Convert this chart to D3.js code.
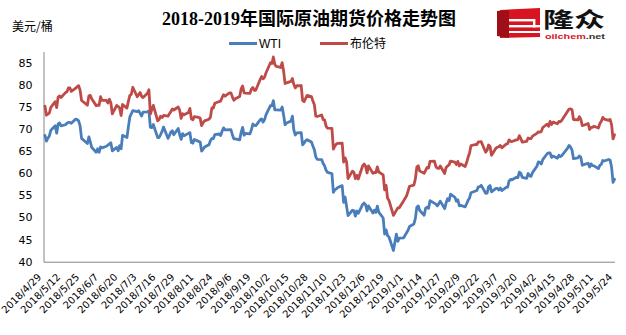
<!DOCTYPE html>
<html>
<head>
<meta charset="utf-8">
<script src="https://cdn.jsdelivr.net/npm/d3@7"></script>
<style>
  body { margin: 0; background: #fff; }
  svg { display: block; }
</style>
</head>
<body>
<svg id="chart" width="626" height="335"></svg>
<script>
// ---- data -------------------------------------------------------------
// Exchange closures common to both contracts (removed from the weekday calendar)
const closedDays = ["2018-05-28", "2018-12-25", "2019-01-01", "2019-04-19"];

// Daily settlement prices, USD/bbl, one row per trading week (null = no settlement)
const wti = [
  68.57, 67.25, 67.93, 68.43, 69.72,
  70.73, 69.06, 71.14, 71.36, 70.70,
  70.96, 71.31, 71.49, 71.49, 71.28,
  72.24, 72.13, 71.84, 70.71, 67.88,
  66.73, 68.21, 67.04, 65.81,
  64.75, 65.52, 64.73, 65.95, 65.74,
  66.10, 66.36, 66.64, 66.89, 65.06,
  65.85, 65.07, 66.22, 65.54, 68.58,
  68.08, 70.53, 72.76, 73.45, 74.15,
  73.94, 74.14, null, 72.94, 73.80,
  73.85, 74.11, 70.38, 70.33, 71.01,
  68.06, 68.08, 68.76, 69.46, 70.46,
  67.89, 68.52, 69.30, 69.61, 68.69,
  70.13, 68.76, 67.66, 68.96, 68.49,
  69.01, 69.17, 66.94, 66.81, 67.63,
  67.20, 67.04, 65.01, 65.46, 65.91,
  66.43, 67.35, 67.86, 67.83, 68.72,
  68.87, 68.53, 69.51, 70.25, 69.80,
  null, 69.87, 68.72, 67.77, 67.75,
  67.54, 69.25, 70.37, 68.59, 68.99,
  68.91, 69.85, 71.12, 70.80, 70.78,
  72.08, 72.28, 71.57, 72.12, 73.25,
  75.30, 75.23, 76.41, 74.33, 74.34,
  74.29, 74.96, 73.17, 70.97, 71.34,
  71.78, 72.92, 69.75, 68.65, 69.12,
  69.17, 66.43, 66.82, 67.33, 67.59,
  67.04, 66.18, 65.31, 63.69, 63.14,
  63.10, 62.21, 61.67, 60.67, 60.19,
  59.93, 55.69, 56.25, 56.46, 56.76,
  57.20, 53.43, 54.63, null, 50.42,
  51.63, 51.56, 50.29, 51.45, 50.93,
  52.95, 53.25, 52.89, 51.49, 52.61,
  51.00, 51.65, 51.15, 52.58, 51.20,
  49.88, 46.24, 47.20, 45.88, 45.59,
  42.53, 46.22, 44.61, 45.33,
  45.41, 46.54, 47.09, 47.96,
  48.52, 49.78, 52.36, 52.59, 51.59,
  50.51, 52.11, 52.31, 52.07, 53.80,
  null, 53.01, 52.62, 53.13, 53.69,
  51.99, 53.31, 54.23, 53.79, 55.26,
  54.56, 53.66, 54.01, 52.64, 52.72,
  52.41, 53.10, 53.90, 54.41, 55.59,
  null, 56.09, 56.92, 56.96, 57.26,
  55.48, 55.50, 56.94, 57.22, 55.80,
  56.59, 56.56, 56.22, 56.66, 56.07,
  56.79, 56.87, 58.26, 58.61, 58.52,
  59.09, 59.03, 60.23, 59.98, 59.04,
  58.82, 59.94, 59.41, 59.30, 60.14,
  61.59, 62.58, 62.46, 62.10, 63.08,
  64.40, 64.61, 64.61, 63.58, 63.89,
  63.40, 64.05, 63.76, 64.00,
  65.70, 66.30, 65.89, 65.21, 63.30,
  63.50, 63.91, 63.60, 61.81, 61.94,
  62.25, 61.40, 62.12, 61.70, 61.66,
  61.04, 61.78, 62.02, 62.87, 62.76,
  63.10, 62.99, 61.42, 57.91, 58.63
];

const brent = [
  75.17, 73.13, 73.36, 73.62, 74.87,
  76.17, 74.85, 77.21, 77.47, 77.12,
  78.23, 78.43, 79.28, 79.30, 78.51,
  79.22, 79.57, 79.80, 78.79, 76.44,
  75.39, 77.50, 77.59, 76.79,
  75.29, 75.38, 75.36, 77.32, 76.46,
  76.46, 75.88, 76.74, 75.94, 73.44,
  75.34, 75.08, 74.74, 73.05, 75.55,
  74.73, 76.31, 77.62, 77.85, 79.44,
  77.30, 77.76, 78.24, 77.39, 77.11,
  78.07, 78.86, 73.40, 74.45, 75.33,
  71.84, 72.16, 72.90, 72.58, 73.07,
  72.91, 73.44, 73.93, 74.54, 74.29,
  74.97, 74.25, 72.39, 73.45, 73.21,
  73.75, 74.65, 72.28, 72.07, 72.81,
  72.61, 72.46, 70.76, 71.43, 71.83,
  72.21, 72.63, 74.78, 74.73, 75.82,
  76.21, 76.31, 77.14, 77.77, 77.42,
  78.15, 78.17, 77.27, 76.50, 76.83,
  77.37, 79.06, 79.74, 78.18, 78.09,
  78.05, 79.03, 79.40, 78.70, 78.80,
  81.20, 81.87, 81.34, 81.72, 82.72,
  84.98, 84.80, 86.29, 84.58, 84.16,
  83.91, 85.00, 83.09, 80.26, 80.43,
  80.78, 81.41, 80.05, 79.29, 79.78,
  79.83, 76.44, 76.17, 76.89, 77.62,
  77.34, 76.31, 75.47, 72.89, 72.83,
  73.17, 72.13, 72.07, 70.65, 70.18,
  70.12, 65.47, 66.12, 66.62, 66.76,
  66.79, 62.53, 63.48, 62.60, 58.80,
  60.48, 60.21, 58.76, 59.51, 58.71,
  61.69, 62.08, 61.56, 60.06, 61.67,
  59.97, 60.20, 60.15, 61.45, 60.28,
  59.61, 56.26, 57.24, 54.35, 53.82,
  50.47, null, 52.16, 52.20,
  53.80, 54.91, 55.95, 57.06,
  57.33, 58.72, 61.44, 61.68, 60.48,
  59.99, 60.64, 61.32, 61.18, 62.70,
  62.74, 61.50, 61.14, 61.09, 61.64,
  59.93, 61.32, 61.65, 61.89, 62.75,
  62.51, 61.98, 62.69, 61.63, 62.10,
  61.51, 62.42, 63.61, 64.57, 66.25,
  66.50, 66.45, 67.08, 67.07, 67.12,
  64.76, 65.21, 66.39, 66.03, 64.07,
  65.67, 65.86, 65.99, 66.30, 65.74,
  66.58, 66.67, 67.55, 67.23, 67.16,
  67.54, 67.61, 68.50, 67.86, 67.03,
  67.21, 67.97, 67.83, 67.82, 68.39,
  69.01, 69.37, 69.31, 69.40, 70.34,
  71.10, 70.61, 71.73, 71.02, 71.55,
  71.18, 71.72, 71.62, 71.97,
  74.04, 74.51, 74.57, 74.35, 72.15,
  72.04, 72.80, 72.18, 70.75, 70.85,
  71.24, 69.88, 70.37, 70.39, 70.62,
  70.23, 71.24, 71.77, 72.62, 72.21,
  71.97, 72.18, 70.99, 67.76, 68.69
];

const seriesNames = ["WTI", "布伦特"];
const yTicks = [40, 45, 50, 55, 60, 65, 70, 75, 80, 85];
const xTickLabels = [
  "2018/4/29", "2018/5/12", "2018/5/25", "2018/6/7", "2018/6/20", "2018/7/3",
  "2018/7/16", "2018/7/29", "2018/8/11", "2018/8/24", "2018/9/6", "2018/9/19",
  "2018/10/2", "2018/10/15", "2018/10/28", "2018/11/10", "2018/11/23", "2018/12/6",
  "2018/12/19", "2019/1/1", "2019/1/14", "2019/1/27", "2019/2/9", "2019/2/22",
  "2019/3/7", "2019/3/20", "2019/4/2", "2019/4/15", "2019/4/28", "2019/5/11",
  "2019/5/24"
];

// ---- calendar -----------------------------------------------------------
const parseISO = d3.timeParse("%Y-%m-%d");
const parseLabel = d3.timeParse("%Y/%m/%d");
const closedSet = new Set(closedDays);
const fmtISO = d3.timeFormat("%Y-%m-%d");
const tradeDays = d3.timeDay.range(parseISO("2018-04-30"), parseISO("2019-05-25"))
  .filter(d => d.getDay() > 0 && d.getDay() < 6 && !closedSet.has(fmtISO(d)));

const toPoints = vals => vals
  .map((v, i) => ({ date: tradeDays[i], v }))
  .filter(p => p.v != null);

// ---- layout -----------------------------------------------------------
const svg = d3.select("#chart");
const plotLeft = 43.5, plotRight = 614.5, plotBottom = 261.7, plotTop = 51.6;
const axisColor = "#868686";
const colors = ["#4a7ebb", "#be4b48"];

const x = d3.scaleTime()
  .domain([parseLabel(xTickLabels[0]), parseLabel(xTickLabels[xTickLabels.length - 1])])
  .range([plotLeft, plotRight]);
const y = d3.scaleLinear().domain([40, 87.5]).range([plotBottom, plotTop]);

// title
svg.append("text")
  .attr("x", 309).attr("y", 25)
  .attr("text-anchor", "middle")
  .attr("font-family", "'Liberation Serif', 'Noto Sans CJK SC', serif")
  .attr("font-weight", "bold")
  .attr("font-size", 18)
  .attr("fill", "#000")
  .text("2018-2019年国际原油期货价格走势图");

// unit
svg.append("text")
  .attr("x", 12).attr("y", 31)
  .attr("font-family", "'Noto Sans CJK SC', sans-serif")
  .attr("font-size", 12)
  .attr("fill", "#000")
  .text("美元/桶");

// y axis
const yAxis = svg.append("g")
  .attr("transform", `translate(${plotLeft},0)`)
  .call(d3.axisLeft(y).tickValues(yTicks).tickSize(0).tickPadding(11));
yAxis.select(".domain").attr("stroke", axisColor);
yAxis.selectAll("text")
  .attr("font-family", "'DejaVu Sans', sans-serif")
  .attr("font-size", 11)
  .attr("fill", "#000");

// x axis
const xAxis = svg.append("g")
  .attr("transform", `translate(0,${plotBottom})`)
  .call(d3.axisBottom(x)
    .tickValues(xTickLabels.map(parseLabel))
    .tickSize(0)
    .tickFormat((d, i) => xTickLabels[i]));
xAxis.select(".domain").attr("stroke", axisColor);
xAxis.selectAll("text")
  .attr("font-family", "'DejaVu Sans', sans-serif")
  .attr("font-size", 10)
  .attr("fill", "#000")
  .attr("text-anchor", "end")
  .attr("x", 0).attr("y", 0).attr("dy", 0)
  .attr("transform", "translate(-2,16) rotate(-45)");

// price lines
const line = d3.line().x(d => x(d.date)).y(d => y(d.v));
[wti, brent].forEach((vals, i) => {
  svg.append("path")
    .datum(toPoints(vals))
    .attr("fill", "none")
    .attr("stroke", colors[i])
    .attr("stroke-width", 2.8)
    .attr("stroke-linejoin", "round")
    .attr("stroke-linecap", "round")
    .attr("d", line);
});

// legend
const legendX = [229, 320];
seriesNames.forEach((name, i) => {
  const g = svg.append("g").attr("transform", `translate(${legendX[i]},43.5)`);
  g.append("line").attr("x1", 0).attr("x2", 28).attr("y1", 0).attr("y2", 0)
    .attr("stroke", colors[i]).attr("stroke-width", 3);
  g.append("text").attr("x", 30).attr("y", 4.5)
    .attr("font-family", "'Liberation Sans', 'Noto Sans CJK SC', sans-serif")
    .attr("font-size", 12).attr("fill", "#000")
    .text(name);
});

// oilchem logo
const logo = svg.append("g").attr("transform", "translate(497,8)");
logo.append("path").attr("d", "M3,2 L43,0 L43,29 L3,30 Z").attr("fill", "#d7141f");
logo.append("path").attr("d", "M0,3 L12,2 L12,30 L0,28 Z").attr("fill", "#9e0f17");
logo.append("rect").attr("x", 12).attr("y", 11).attr("width", 24).attr("height", 2.4).attr("fill", "#fff");
logo.append("rect").attr("x", 12).attr("y", 17).attr("width", 31).attr("height", 2.4).attr("fill", "#fff");
logo.append("rect").attr("x", 36).attr("y", 11).attr("width", 2.4).attr("height", 8.4).attr("fill", "#fff");
logo.append("rect").attr("x", 12).attr("y", 23).attr("width", 31).attr("height", 2).attr("fill", "#fff");
svg.append("text")
  .attr("x", 543).attr("y", 27)
  .attr("font-family", "'Noto Sans CJK SC', sans-serif")
  .attr("font-weight", "bold")
  .attr("font-size", 21)
  .attr("textLength", 62).attr("lengthAdjust", "spacingAndGlyphs")
  .attr("fill", "#111")
  .text("隆众");
const site = svg.append("text")
  .attr("x", 545).attr("y", 39)
  .attr("font-family", "'Liberation Sans', sans-serif")
  .attr("font-weight", "bold")
  .attr("font-size", 8)
  .attr("textLength", 60).attr("lengthAdjust", "spacingAndGlyphs");
site.append("tspan").attr("fill", "#d7141f").text("oilchem");
site.append("tspan").attr("fill", "#333").text(".net");
</script>
</body>
</html>
